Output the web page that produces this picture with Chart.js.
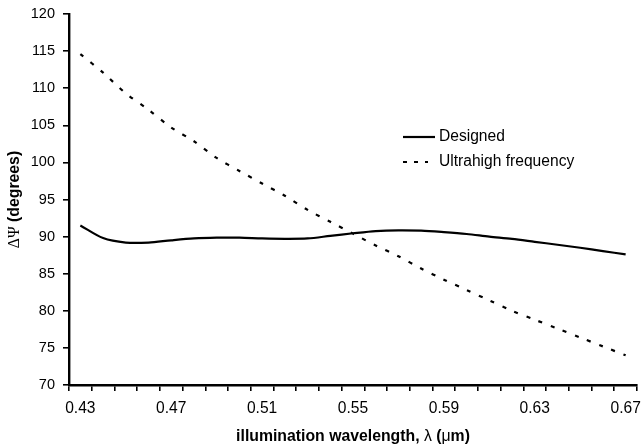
<!DOCTYPE html>
<html>
<head>
<meta charset="utf-8">
<script src="https://cdn.jsdelivr.net/npm/chart.js@4/dist/chart.umd.min.js"></script>
<style>
  html, body { margin: 0; padding: 0; background: #fff; }
  #wrap { width: 641px; height: 447px; }
</style>
</head>
<body>
<div id="wrap"><canvas id="c" width="641" height="447"></canvas></div>
<script>
const categories = ['0.43','0.44','0.45','0.46','0.47','0.48','0.49','0.50','0.51','0.52','0.53','0.54','0.55','0.56','0.57','0.58','0.59','0.60','0.61','0.62','0.63','0.64','0.65','0.66','0.67'];
const designed = [91.5, 89.8, 89.2, 89.2, 89.5, 89.75, 89.85, 89.85, 89.75, 89.7, 89.75, 90.1, 90.45, 90.75, 90.85, 90.8, 90.6, 90.35, 90.0, 89.7, 89.3, 88.9, 88.5, 88.05, 87.6];
const ultrahigh = [114.6, 112.1, 109.3, 107.1, 104.7, 102.85, 100.6, 98.85, 97.15, 95.5, 93.6, 92.0, 90.4, 88.8, 87.35, 85.7, 84.2, 82.8, 81.4, 80.0, 78.8, 77.6, 76.4, 75.2, 74.0];
const seriesNames = ['Designed', 'Ultrahigh frequency'];
const yMin = 70, yMax = 120, yStep = 5;
const xTitleParts = [['illumination wavelength, ', 'bold'], ['\u03bb', 'normal'], [' (', 'bold'], ['\u03bc', 'normal'], ['m)', 'bold']];
const yTitleParts = [['\u0394\u03a8', 'serif'], [' (degrees)', 'bold']];

const SANS = '"Liberation Sans", Arial, sans-serif';

const legendAndTitles = {
  id: 'legendAndTitles',
  afterDraw(chart) {
    const ctx = chart.ctx;
    const ca = chart.chartArea;
    // legend
    chart.data.datasets.forEach((ds, i) => {
      const y = 137 + 25 * i;
      const dashed = ds.borderDash && ds.borderDash.length;
      ctx.save();
      ctx.strokeStyle = ds.borderColor;
      ctx.lineWidth = ds.borderWidth;
      ctx.setLineDash(dashed ? [4, 7] : []);
      ctx.beginPath();
      ctx.moveTo(403, y);
      ctx.lineTo(dashed ? 428 : 435, y);
      ctx.stroke();
      ctx.setLineDash([]);
      ctx.fillStyle = '#000';
      ctx.font = '15.6px ' + SANS;
      ctx.textBaseline = 'middle';
      ctx.textAlign = 'left';
      ctx.fillText(ds.label, 439, y);
      ctx.restore();
    });
    const fontFor = (w) => w === 'bold' ? 'bold 15.8px ' + SANS : (w === 'serif' ? '15.8px "Liberation Serif", serif' : '15.8px ' + SANS);
    // x title
    ctx.save();
    ctx.fillStyle = '#000';
    ctx.textBaseline = 'middle';
    ctx.textAlign = 'left';
    let total = 0;
    xTitleParts.forEach(([t, w]) => { ctx.font = fontFor(w); total += ctx.measureText(t).width; });
    let x = (ca.left + ca.right) / 2 - total / 2;
    xTitleParts.forEach(([t, w]) => { ctx.font = fontFor(w); ctx.fillText(t, x, 437); x += ctx.measureText(t).width; });
    ctx.restore();
    // y title
    ctx.save();
    ctx.fillStyle = '#000';
    ctx.textBaseline = 'middle';
    ctx.textAlign = 'left';
    ctx.translate(15, (ca.top + ca.bottom) / 2);
    ctx.rotate(-Math.PI / 2);
    total = 0;
    yTitleParts.forEach(([t, w]) => { ctx.font = fontFor(w); total += ctx.measureText(t).width; });
    x = -total / 2;
    yTitleParts.forEach(([t, w]) => { ctx.font = fontFor(w); ctx.fillText(t, x, 0); x += ctx.measureText(t).width; });
    ctx.restore();
  }
};

new Chart(document.getElementById('c'), {
  type: 'line',
  data: {
    labels: categories,
    datasets: [
      { label: seriesNames[0], data: designed, borderColor: '#000', borderWidth: 2.2, pointRadius: 0, tension: 0.3, fill: false },
      { label: seriesNames[1], data: ultrahigh, borderColor: '#000', borderWidth: 2.2, borderDash: [4, 9], pointRadius: 0, tension: 0.3, fill: false }
    ]
  },
  options: {
    responsive: false,
    animation: false,
    devicePixelRatio: 1,
    layout: { padding: { left: 0, top: 14, right: 4, bottom: 0 } },
    plugins: { legend: { display: false }, tooltip: { enabled: false }, title: { display: false } },
    scales: {
      x: {
        type: 'category',
        offset: true,
        grid: { offset: true, drawOnChartArea: false, drawTicks: true, tickLength: 6, color: '#000', lineWidth: 1.6 },
        border: { display: true, color: '#000', width: 2.4 },
        ticks: {
          autoSkip: false, maxRotation: 0, minRotation: 0, color: '#000', padding: 8,
          font: { family: SANS, size: 15.6 },
          callback: function (v, i) { return i % 4 === 0 ? categories[i] : ''; }
        },
        afterFit: function (s) { s.height = 62; s.paddingLeft = 0; s.paddingRight = 0; }
      },
      y: {
        min: yMin, max: yMax,
        grid: { drawOnChartArea: false, drawTicks: true, tickLength: 6, color: '#000', lineWidth: 1.6 },
        border: { display: true, color: '#000', width: 2.4 },
        ticks: { stepSize: yStep, color: '#000', padding: 8, font: { family: SANS, size: 14.5 } },
        afterFit: function (s) { s.width = 69; s.paddingTop = 0; s.paddingBottom = 0; }
      }
    }
  },
  plugins: [legendAndTitles]
});
</script>
</body>
</html>
